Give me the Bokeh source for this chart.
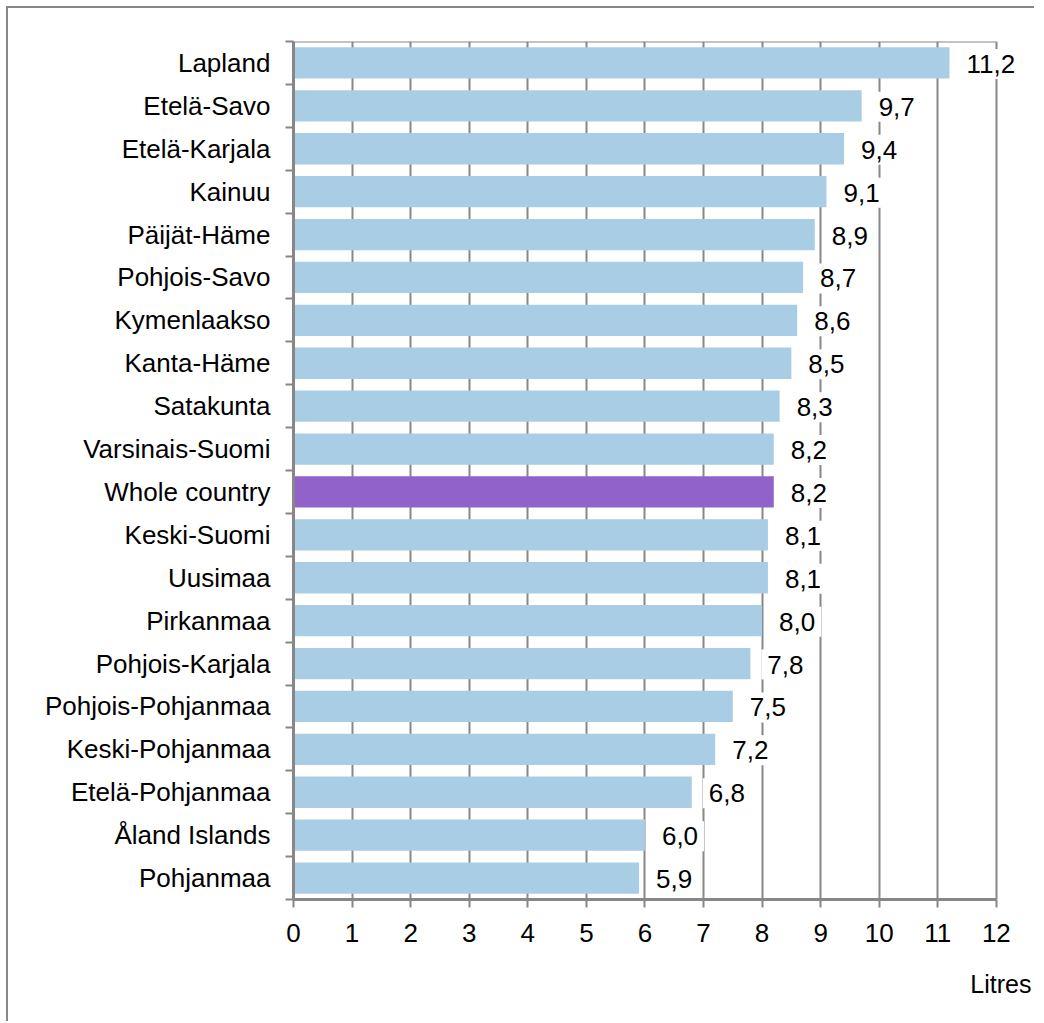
from bokeh.plotting import figure
from bokeh.models import ColumnDataSource, Range1d, FixedTicker, Label, Title
from bokeh.embed import file_html
from bokeh.resources import INLINE

regions = ["Lapland", "Etelä-Savo", "Etelä-Karjala", "Kainuu", "Päijät-Häme",
           "Pohjois-Savo", "Kymenlaakso", "Kanta-Häme", "Satakunta", "Varsinais-Suomi",
           "Whole country", "Keski-Suomi", "Uusimaa", "Pirkanmaa", "Pohjois-Karjala",
           "Pohjois-Pohjanmaa", "Keski-Pohjanmaa", "Etelä-Pohjanmaa", "Åland Islands", "Pohjanmaa"]
litres = [11.2, 9.7, 9.4, 9.1, 8.9, 8.7, 8.6, 8.5, 8.3, 8.2,
          8.2, 8.1, 8.1, 8.0, 7.8, 7.5, 7.2, 6.8, 6.0, 5.9]
x_ticks = list(range(0, 13))
highlight = "Whole country"
unit_label = "Litres"

BLUE = "#A9CDE4"
PURPLE = "#9163CA"
GREY = "#878787"
FONT = "Liberation Sans"
FS = "26px"

n = len(regions)
ypos = [n - 1 - i for i in range(n)]
colors = [PURPLE if r == highlight else BLUE for r in regions]
texts = [f"{v:.1f}".replace(".", ",") for v in litres]

src = ColumnDataSource(dict(y=ypos, value=litres, color=colors, region=regions))

p = figure(width=1028, height=1015, output_backend="svg", toolbar_location=None,
           x_range=Range1d(0, 12.6), y_range=Range1d(-0.5, n - 0.5),
           min_border_left=285, min_border_right=5, min_border_top=33, min_border_bottom=124)
p.styles = {"border-top": f"2px solid {GREY}", "border-left": f"2px solid {GREY}",
            "margin-left": "6px", "margin-top": "6px"}
p.outline_line_color = None

p.hbar(y="y", left=0, right="value", height=0.73, fill_color="color", line_color=None, source=src)

# top edge of the plot area, across the tick span
p.segment(x0=[x_ticks[0]], x1=[x_ticks[-1]], y0=[n - 0.5], y1=[n - 0.5],
          line_color=GREY, line_width=2)

# grid
p.xgrid.ticker = FixedTicker(ticks=x_ticks)
p.xgrid.grid_line_color = GREY
p.xgrid.grid_line_width = 2
p.ygrid.visible = False

# x axis
xa = p.xaxis[0]
xa.ticker = FixedTicker(ticks=x_ticks)
xa.bounds = (x_ticks[0], x_ticks[-1])
xa.axis_line_color = GREY
xa.axis_line_width = 3
xa.major_tick_line_color = GREY
xa.major_tick_line_width = 2
xa.major_tick_out = 8
xa.major_tick_in = 0
xa.minor_tick_line_color = None
xa.major_label_text_font = FONT
xa.major_label_text_font_size = FS
xa.major_label_text_color = "black"
xa.major_label_standoff = 16

# y axis
ya = p.yaxis[0]
ya.ticker = FixedTicker(ticks=ypos, minor_ticks=[k - 0.5 for k in range(n + 1)])
ya.major_label_overrides = {y: r for y, r in zip(ypos, regions)}
ya.axis_line_color = GREY
ya.axis_line_width = 3
ya.major_tick_line_color = None
ya.major_tick_out = 0
ya.major_tick_in = 0
ya.minor_tick_line_color = GREY
ya.minor_tick_line_width = 2
ya.minor_tick_out = 8
ya.minor_tick_in = 0
ya.major_label_text_font = FONT
ya.major_label_text_font_size = FS
ya.major_label_text_color = "black"
ya.major_label_standoff = 15

# value labels with white boxes
for y, v, t in zip(ypos, litres, texts):
    p.add_layout(Label(x=v, y=y, x_offset=11, y_offset=-1, text=t,
                       text_align="left", text_baseline="middle",
                       text_font=FONT, text_font_size=FS, text_color="black",
                       background_fill_color="white", padding=6))

p.add_layout(Title(text=unit_label, align="right", offset=0, standoff=46,
                   text_font=FONT, text_font_size="25px", text_font_style="normal",
                   text_color="black"), "below")

open("out.html", "w").write(file_html(p, INLINE))
